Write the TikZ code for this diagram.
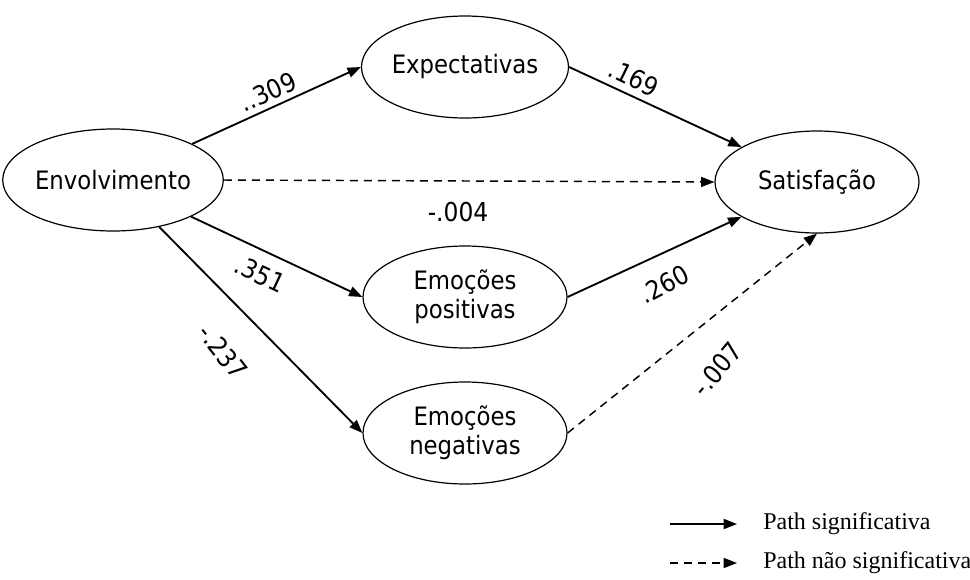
\documentclass[tikz,border=0pt]{standalone}
\usepackage{fontspec}
\setmainfont{DejaVu Sans Condensed}
\newfontfamily\legendfont{Liberation Serif}
\usetikzlibrary{shapes.geometric,arrows.meta}

\begin{document}
\begin{tikzpicture}[x=0.75pt,y=-0.75pt,
    latent/.style={draw,ellipse,line width=0.9pt,minimum width=153pt,minimum height=76.5pt,
      inner sep=0pt,align=center,font=\fontsize{19}{21.75}\selectfont},
    effect/.style={line width=1.4pt,-{Triangle[length=10pt,width=7.5pt]}},
    nsig/.style={effect,line width=1.1pt,dash pattern=on 6pt off 4.5pt},
    coef/.style={font=\fontsize{19.5}{22}\selectfont,inner sep=1pt},
    legtext/.style={anchor=west,inner sep=0pt,font=\legendfont\fontsize{18}{20}\selectfont}]
  \useasboundingbox (0,0) rectangle (970,579);
  % latent variables
  \node[latent] (env) at (113,180) {Envolvimento};
  \node[latent] (exp) at (465,67) {Expectativas};
  \node[latent] (sat) at (817,182) {Satisfação};
  \node[latent] (pos) at (465,297) {Emoções\\positivas};
  \node[latent] (neg) at (465,433) {Emoções\\negativas};
  % paths
  \draw[effect] (env) -- (exp.west);
  \draw[effect] (exp.east) -- (sat);
  \draw[nsig] (env.east) -- (sat.west);
  \draw[effect] (env) -- (pos.west);
  \draw[effect] (env) -- (neg.west);
  \draw[effect] (pos.east) -- (sat);
  \draw[nsig] (neg.east) -- (sat.south);
  % coefficients
  \node[coef,rotate=24] (c1) at (268,92) {..309};
  \node[coef,rotate=-26] (c2) at (634,78) {.169};
  \node[coef] (c3) at (458,212) {-.004};
  \node[coef,rotate=-25] (c4) at (260,274) {.351};
  \node[coef,rotate=-52] (c5) at (223,352) {-.237};
  \node[coef,rotate=28] (c6) at (664,284) {.260};
  \node[coef,rotate=50] (c7) at (717,369) {-.007};
  % legend
  \node[legtext] (lsig) at (763,524) {Path significativa};
  \node[legtext] (lnsig) at (763,563) {Path não significativa};
  \coordinate (ls1) at (670,524);
  \coordinate (le1) at (737,524);
  \coordinate (ls2) at (670,563);
  \coordinate (le2) at (737,563);
  \draw[effect] (ls1) -- (le1);
  \draw[nsig] (ls2) -- (le2);
\end{tikzpicture}
\end{document}
